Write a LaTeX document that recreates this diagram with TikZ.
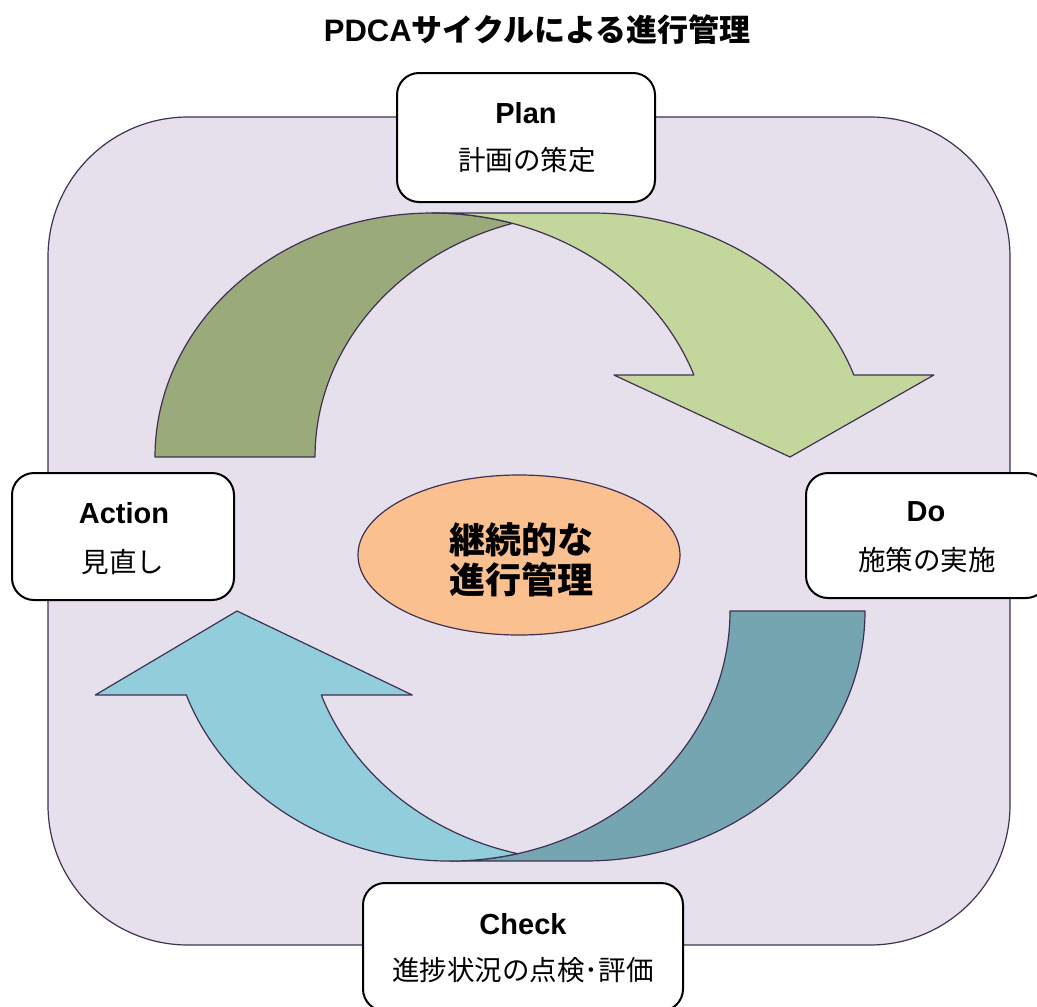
\documentclass[tikz,border=0pt]{standalone}
\usepackage{fontspec}
\setmainfont{Liberation Sans}
\newfontfamily\jp{Noto Sans CJK JP}
\usetikzlibrary{shapes.geometric}
\definecolor{bgfill}{HTML}{E5E0EC}
\definecolor{edge}{HTML}{3F3151}
\definecolor{gdark}{HTML}{9BAA7B}
\definecolor{glight}{HTML}{C3D69B}
\definecolor{tdark}{HTML}{75A5B0}
\definecolor{tlight}{HTML}{92CDDC}
\definecolor{corefill}{HTML}{FAC090}
\begin{document}
\begin{tikzpicture}[x=1pt,y=-1pt,
  arrowline/.style={draw=edge, line width=1.2, line join=round},
  stagebox/.style={draw=black, line width=2, fill=white, rounded corners=22, inner sep=0},
  lab/.style={font=\fontsize{29}{34}\selectfont\bfseries, inner sep=0},
  jtxt/.style={font=\fontsize{27.5}{30}\selectfont\jp, inner sep=0},
  elx/.style={x radius=277.5, y radius=244},
  ely/.style={x radius=280, y radius=250}]
\useasboundingbox (0,0) rectangle (1037,1007);
\clip (0,0) rectangle (1037,1007);
% title
\node[inner sep=0, font=\fontsize{31}{36}\selectfont\bfseries] (title) at (537,30) {PDCA{\jp サイクルによる進行管理}};
% background panel
\draw[draw=edge, line width=1.2, fill=bgfill, rounded corners=140] (48,117) rectangle (1010,945);
% top curved arrow (Plan -> Do)
\draw[arrowline, fill=gdark] (155,457) arc[start angle=180, end angle=286.76, elx]
  arc[start angle=253.24, end angle=180, elx] -- cycle;
\draw[arrowline, fill=glight] (790,457) -- (613.9,375) -- (693.9,375)
  arc[start angle=340.36, end angle=270, elx] -- (592.5,213)
  arc[start angle=270, end angle=340.36, elx] -- (933.9,375) -- cycle;
% bottom curved arrow (Check -> Action)
\draw[arrowline, fill=tdark] (865,611) arc[start angle=0, end angle=90, ely] -- (450,861)
  arc[start angle=90, end angle=0, ely] -- cycle;
\draw[arrowline, fill=tlight] (237,611) -- (412.3,695) -- (321.3,695)
  arc[start angle=160.37, end angle=103.95, ely]
  arc[start angle=76.05, end angle=160.37, ely] -- (95.3,695) -- cycle;
% centre
\node[ellipse, draw=edge, line width=1.2, fill=corefill, minimum width=322, minimum height=160, inner sep=0] (core) at (519,555) {};
\node[align=center, inner sep=0, font=\fontsize{36}{40}\selectfont\jp\bfseries] (coretext) at (521,560) {継続的な\\進行管理};
% stage boxes
\node[stagebox, minimum width=258, minimum height=129] (planbox) at (526,137.5) {};
\node[lab] (plan) at (526,113) {Plan};
\node[jtxt] (planj) at (527,160) {計画の策定};
\node[stagebox, minimum width=222, minimum height=127] (actbox) at (123,536.5) {};
\node[lab] (act) at (124,513) {Action};
\node[jtxt] (actj) at (123,562) {見直し};
\node[stagebox, minimum width=242, minimum height=125] (dobox) at (927,535.5) {};
\node[lab] (do) at (926,512) {Do};
\node[jtxt] (doj) at (927,560) {施策の実施};
\node[stagebox, minimum width=320, minimum height=128] (chkbox) at (523,947) {};
\node[lab] (chk) at (523,924) {Check};
\node[jtxt] (chkj) at (523,970) {進捗状況の点検･評価};
\end{tikzpicture}
\end{document}
